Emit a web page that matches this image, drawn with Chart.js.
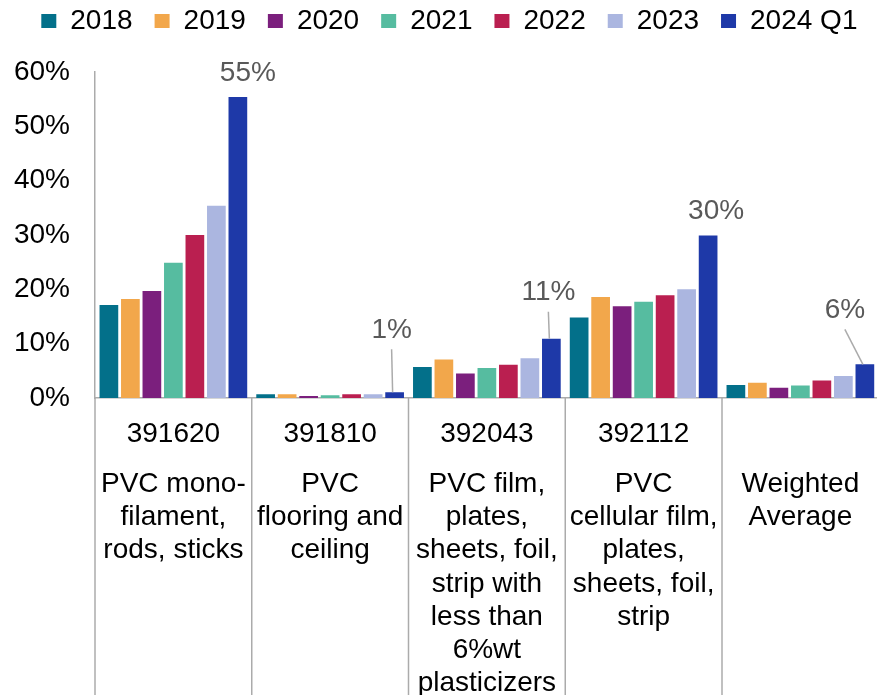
<!doctype html>
<html lang="en">
<head>
<meta charset="utf-8">
<title>PVC products – share by year</title>
<script src="https://cdn.jsdelivr.net/npm/chart.js"></script>
<style>
  html, body { margin: 0; padding: 0; background: #fff; overflow: hidden; }
  #wrap { width: 898px; height: 695px; }
</style>
</head>
<body>
<div id="wrap"><canvas id="chart" width="898" height="695"></canvas></div>
<script>
// HS codes and product descriptions
const categories = ['391620', '391810', '392043', '392112', 'Weighted Average'];
const codeLines = ['391620', '391810', '392043', '392112', ''];
const descLines = [
  ['PVC mono-', 'filament,', 'rods, sticks'],
  ['PVC', 'flooring and', 'ceiling'],
  ['PVC film,', 'plates,', 'sheets, foil,', 'strip with', 'less than', '6%wt', 'plasticizers'],
  ['PVC', 'cellular film,', 'plates,', 'sheets, foil,', 'strip'],
  ['Weighted', 'Average']
];

const years = ['2018', '2019', '2020', '2021', '2022', '2023', '2024 Q1'];

// share in percent, one list per year
const v2018 = [17.1, 0.7, 5.7, 14.8, 2.4];
const v2019 = [18.2, 0.7, 7.1, 18.6, 2.8];
const v2020 = [19.7, 0.35, 4.5, 16.9, 1.9];
const v2021 = [24.9, 0.5, 5.5, 17.7, 2.3];
const v2022 = [30.0, 0.7, 6.1, 18.9, 3.2];
const v2023 = [35.4, 0.7, 7.3, 20.0, 4.05];
const v2024q1 = [55.4, 1.05, 10.9, 29.9, 6.2];

const yTicks = [0, 10, 20, 30, 40, 50, 60];

const series = [v2018, v2019, v2020, v2021, v2022, v2023, v2024q1];
const colors = ['#03708a', '#f2a74b', '#7b1f7d', '#56bca0', '#ba1f50', '#abb6e0', '#1e39a8'];

const FONT = '"Liberation Sans", Arial, sans-serif';
const lineGray = '#ababab';

Chart.defaults.font.family = FONT;
Chart.defaults.font.size = 28;
Chart.defaults.color = '#000';

// label placement for the last year's bars, relative to the bar top
const labelOffsets = [[10, -24], [-3, -62], [-3, -46], [8, -24], [-20, -54]];

// pull the legend up, leave room above the plot and nudge it right
const legendSpacing = {
  id: 'legendSpacing',
  beforeInit(chart) {
    const fit = chart.legend.fit;
    chart.legend.fit = function () {
      fit.bind(chart.legend)();
      this.height = 87;
    };
  },
  afterLayout(chart) {
    chart.legend.left += 10;
    chart.legend.right += 10;
  }
};

const lastYearLabels = {
  id: 'lastYearLabels',
  afterDatasetsDraw(chart) {
    const ctx = chart.ctx;
    const di = series.length - 1;
    const meta = chart.getDatasetMeta(di);
    ctx.save();
    ctx.font = '28px ' + FONT;
    ctx.fillStyle = '#595959';
    ctx.textAlign = 'center';
    ctx.textBaseline = 'middle';
    meta.data.forEach((bar, i) => {
      const [dx, dy] = labelOffsets[i];
      const lx = bar.x + dx;
      const ly = bar.y + dy;
      ctx.fillText(Math.round(series[di][i]) + '%', lx, ly);
      if (dy < -40) {
        ctx.strokeStyle = lineGray;
        ctx.lineWidth = 1.5;
        ctx.beginPath();
        ctx.moveTo(lx, ly + 19);
        ctx.lineTo(bar.x - 2, bar.y);
        ctx.stroke();
      }
    });
    ctx.restore();
  }
};

// table-like category labels under the axis
const categoryLabels = {
  id: 'categoryLabels',
  afterDraw(chart) {
    const { ctx, chartArea, scales: { x } } = chart;
    const n = categories.length;
    const half = (x.getPixelForValue(1) - x.getPixelForValue(0)) / 2;
    ctx.save();
    ctx.strokeStyle = lineGray;
    ctx.lineWidth = 1.5;
    for (let i = 0; i <= n; i++) {
      const px = i < n ? x.getPixelForValue(i) - half : x.getPixelForValue(n - 1) + half;
      ctx.beginPath();
      ctx.moveTo(px, chartArea.bottom);
      ctx.lineTo(px, chart.height);
      ctx.stroke();
    }
    ctx.font = '28px ' + FONT;
    ctx.fillStyle = '#000';
    ctx.textAlign = 'center';
    ctx.textBaseline = 'alphabetic';
    for (let i = 0; i < n; i++) {
      const cx = x.getPixelForValue(i);
      if (codeLines[i]) ctx.fillText(codeLines[i], cx, chartArea.bottom + 44);
      descLines[i].forEach((line, j) => {
        ctx.fillText(line, cx, chartArea.bottom + 94 + j * 33.2);
      });
    }
    ctx.restore();
  }
};

new Chart(document.getElementById('chart'), {
  type: 'bar',
  data: {
    labels: categories,
    datasets: years.map((y, i) => ({
      label: y,
      data: series[i],
      backgroundColor: colors[i],
      categoryPercentage: 0.96,
      barPercentage: 0.87
    }))
  },
  options: {
    responsive: false,
    animation: false,
    layout: { padding: { top: -15, left: 0, right: 19.25, bottom: 0 } },
    plugins: {
      legend: {
        position: 'top',
        labels: {
          boxWidth: 15,
          boxHeight: 14,
          padding: 22,
          color: '#000',
          font: { size: 28 }
        }
      },
      tooltip: { enabled: false }
    },
    scales: {
      x: {
        grid: { display: false },
        border: { display: true, color: lineGray, width: 1.5 },
        ticks: { display: false },
        afterFit(scale) { scale.height = 297; }
      },
      y: {
        min: 0,
        max: 60,
        afterBuildTicks(scale) { scale.ticks = yTicks.map(v => ({ value: v })); },
        grid: { display: false, drawTicks: false },
        border: { display: true, color: lineGray, width: 1.5 },
        ticks: {
          padding: 25,
          color: '#000',
          callback: v => v + '%'
        },
        afterFit(scale) { scale.width = 95; }
      }
    }
  },
  plugins: [legendSpacing, lastYearLabels, categoryLabels]
});
</script>
</body>
</html>
